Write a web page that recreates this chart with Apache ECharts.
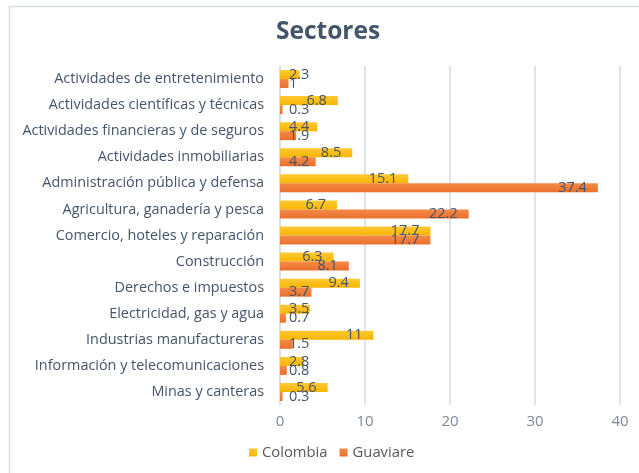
<!DOCTYPE html>
<html>
<head>
<meta charset="utf-8">
<script src="https://cdn.jsdelivr.net/npm/echarts@6/dist/echarts.min.js"></script>
<style>
  html, body { margin: 0; padding: 0; background: #fff; }
  #chart { width: 639px; height: 473px; }
</style>
</head>
<body>
<div id="chart"></div>
<script>
const categories = [
  'Actividades de entretenimiento',
  'Actividades científicas y técnicas',
  'Actividades financieras y de seguros',
  'Actividades inmobiliarias',
  'Administración pública y defensa',
  'Agricultura, ganadería y pesca',
  'Comercio, hoteles y reparación',
  'Construcción',
  'Derechos e impuestos',
  'Electricidad, gas y agua',
  'Industrias manufactureras',
  'Información y telecomunicaciones',
  'Minas y canteras'
]
const colombia = [2.3, 6.8, 4.4, 8.5, 15.1, 6.7, 17.7, 6.3, 9.4, 3.5, 11, 2.8, 5.6]
const guaviare = [1, 0.3, 1.9, 4.2, 37.4, 22.2, 17.7, 8.1, 3.7, 0.7, 1.5, 0.8, 0.3]
const xTicks = [0, 10, 20, 30, 40]

const FONT = 'Open Sans'
const labelColor = '#44546a'

// short bars: label starts at the base instead of the end
const withLabels = (vals) => vals.map(v => ({
  value: v,
  label: v < 5
    ? { position: 'insideLeft', distance: 9 }
    : { position: 'insideRight', distance: 11 }
}))

const grad = (top, bottom) => new echarts.graphic.LinearGradient(0, 0, 0, 1, [
  { offset: 0, color: top },
  { offset: 1, color: bottom }
])

const chart = echarts.init(document.getElementById('chart'))

const option = {
  backgroundColor: '#fff',
  animation: false,
  textStyle: { fontFamily: FONT },
  graphic: [{
    type: 'rect',
    shape: { x: 9.5, y: 6.5, width: 700, height: 600 },
    style: { fill: 'none', stroke: '#d9dee5', lineWidth: 1.5 },
    silent: true
  }],
  title: {
    text: 'Sectores',
    left: 271,
    top: 15,
    textStyle: { fontFamily: FONT, fontSize: 24.5, fontWeight: 'bold', color: '#44546a' }
  },
  legend: {
    bottom: 8,
    left: 244,
    icon: 'rect',
    itemWidth: 8,
    itemHeight: 8,
    itemGap: 12,
    textStyle: { fontFamily: FONT, fontSize: 14.8, color: '#595959' },
    data: ['Colombia', 'Guaviare']
  },
  grid: { left: 280, right: 19, top: 66, bottom: 68, containLabel: false },
  xAxis: {
    type: 'value',
    min: xTicks[0],
    max: xTicks[xTicks.length - 1],
    interval: 10,
    axisLine: { show: false },
    axisTick: { show: false },
    axisLabel: { fontFamily: FONT, fontSize: 15, color: '#7f8897', margin: 9 },
    splitLine: { lineStyle: { color: '#d6dde5', width: 1.5 } }
  },
  yAxis: {
    type: 'category',
    data: categories,
    inverse: true,
    axisLine: { show: true, lineStyle: { color: '#d6dde5', width: 1.5 } },
    axisTick: { show: false },
    axisLabel: { fontFamily: FONT, fontSize: 14.4, color: labelColor, margin: 16 }
  },
  series: [
    {
      name: 'Colombia',
      type: 'bar',
      data: withLabels(colombia),
      barGap: '0%',
      barCategoryGap: '31%',
      itemStyle: { color: grad('#ffc934', '#f7b500') },
      label: { show: true, fontFamily: FONT, fontSize: 14.5, color: labelColor }
    },
    {
      name: 'Guaviare',
      type: 'bar',
      data: withLabels(guaviare),
      barGap: '0%',
      barCategoryGap: '31%',
      itemStyle: { color: grad('#f48a48', '#eb6f2c') },
      label: { show: true, fontFamily: FONT, fontSize: 14.5, color: labelColor }
    }
  ]
}

chart.setOption(option)
</script>
</body>
</html>
